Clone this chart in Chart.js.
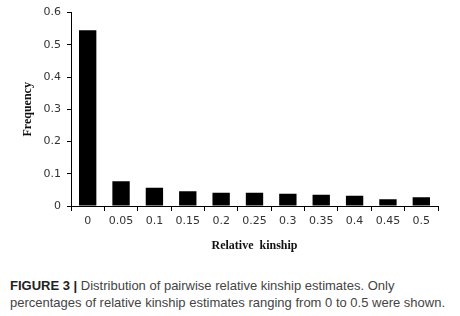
<!DOCTYPE html>
<html><head><meta charset="utf-8">
<script src="https://cdn.jsdelivr.net/npm/chart.js@4.4.0/dist/chart.umd.min.js"></script>
<style>
html,body{margin:0;padding:0;background:#fff;width:460px;height:316px;overflow:hidden;}
#wrap{position:absolute;left:0;top:0;width:460px;height:260px;}
#cap{position:absolute;left:10px;top:277px;width:450px;font-family:"Liberation Sans",Arial,sans-serif;font-size:13px;line-height:17px;color:#444;}
#cap b{color:#222;}
</style></head>
<body>
<div id="wrap"><canvas id="c" width="460" height="260"></canvas></div>
<div id="cap"><b>FIGURE 3 |</b> Distribution of pairwise relative kinship estimates. Only<br>percentages of relative kinship estimates ranging from 0 to 0.5 were shown.</div>
<script>
const categories = ["0","0.05","0.1","0.15","0.2","0.25","0.3","0.35","0.4","0.45","0.5"];
const frequency = [0.545,0.077,0.057,0.046,0.041,0.041,0.038,0.035,0.032,0.021,0.027];
const yTicks = [0,0.1,0.2,0.3,0.4,0.5,0.6];

const tickFont = {family:"'DejaVu Sans', Verdana, sans-serif", size:11};
const titleFont = {family:"'Liberation Serif','Times New Roman',serif", size:12, weight:'bold'};

new Chart(document.getElementById('c'), {
  type:'bar',
  data:{labels:categories, datasets:[{data:frequency, backgroundColor:'#000', borderWidth:0, barPercentage:0.52, categoryPercentage:1}]},
  options:{
    responsive:false, animation:false,
    layout:{padding:{left:21,right:22,top:11,bottom:7}},
    plugins:{legend:{display:false}, tooltip:{enabled:false}},
    scales:{
      x:{
        grid:{display:true, drawOnChartArea:false, drawTicks:true, tickLength:5, color:'#000', offset:true},
        border:{display:true, color:'#000', width:1},
        ticks:{color:'#333', font:tickFont, padding:4, maxRotation:0, autoSkip:false},
        title:{display:true, text:'Relative  kinship', color:'#111', font:titleFont, padding:{top:6,bottom:0}},
        afterFit:(s)=>{ s.height = 47; }
      },
      y:{
        min:0, max:0.6,
        afterBuildTicks:(s)=>{ s.ticks = yTicks.map(v=>({value:v})); },
        grid:{display:true, drawOnChartArea:false, drawTicks:true, tickLength:4, color:'#000'},
        border:{display:true, color:'#000', width:1},
        ticks:{color:'#333', font:tickFont, padding:6, callback:(v)=>String(v)},
        title:{display:true, text:'Frequency', color:'#111', font:titleFont, padding:{top:0,bottom:8}},
        afterFit:(s)=>{ s.width = 50; }
      }
    }
  }
});
</script>
</body></html>
